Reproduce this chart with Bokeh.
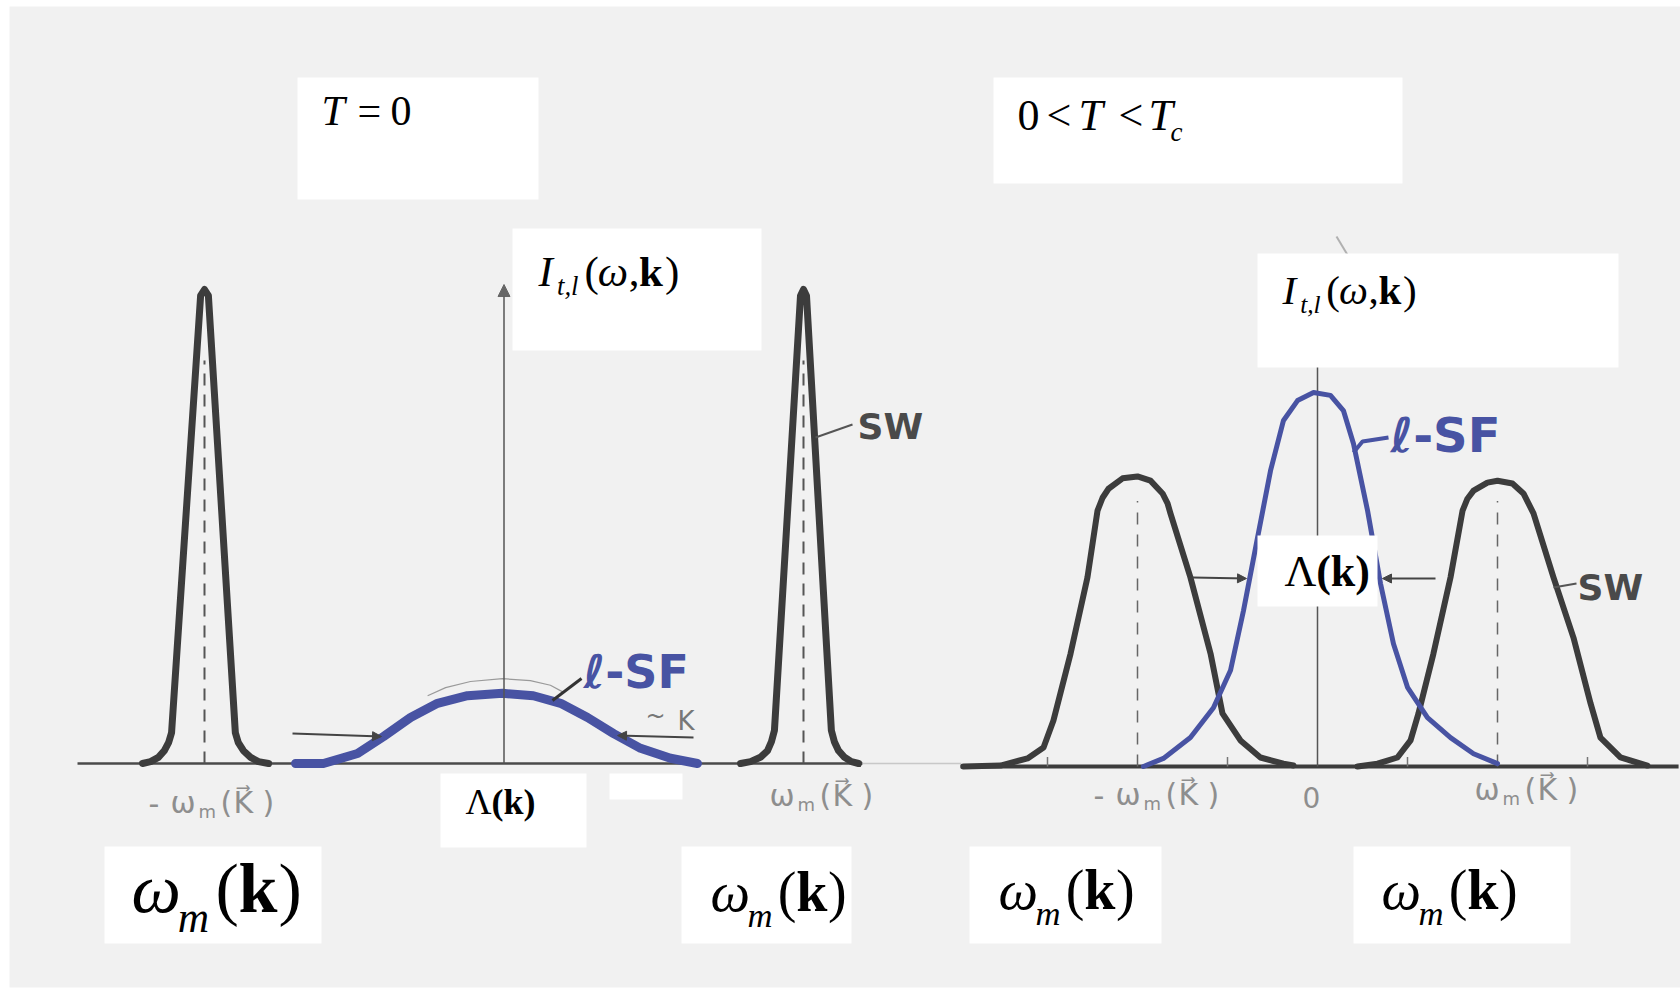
from bokeh.plotting import figure
from bokeh.models import Range1d, Arrow, NormalHead
from bokeh.core.properties import value
from bokeh.embed import file_html
from bokeh.resources import INLINE

# ---------------- data: panel T = 0 (omega in units of omega_m(k); intensity rel. to SW peak at T=0)
sw0_left_w = [-1.207, -1.180, -1.154, -1.134, -1.120, -1.110, -1.013, -1.000, -0.987,
              -0.897, -0.887, -0.870, -0.846, -0.820, -0.786]
sw0_left_I = [0.0, 0.004, 0.013, 0.027, 0.044, 0.065, 0.987, 1.0, 0.987,
              0.065, 0.044, 0.027, 0.013, 0.004, 0.0]
sw0_right_w = [0.790, 0.823, 0.856, 0.880, 0.893, 0.903, 0.990, 1.000, 1.010,
               1.093, 1.103, 1.117, 1.137, 1.160, 1.184]
sw0_right_I = [0.0, 0.004, 0.013, 0.027, 0.046, 0.070, 0.987, 1.0, 0.987,
               0.070, 0.046, 0.027, 0.013, 0.004, 0.0]
lsf0_w = [-0.696, -0.603, -0.489, -0.402, -0.312, -0.222, -0.122, -0.005, 0.098,
          0.189, 0.279, 0.366, 0.456, 0.556, 0.646]
lsf0_I = [0.0, 0.0, 0.021, 0.057, 0.097, 0.127, 0.143, 0.148, 0.143,
          0.127, 0.097, 0.063, 0.032, 0.011, 0.0]
arc0_w = [-0.255, -0.195, -0.112, -0.005, 0.088, 0.155, 0.199]
arc0_I = [0.143, 0.160, 0.173, 0.179, 0.175, 0.165, 0.150]
peaks_T0 = [-1.0, 1.0]
base_T0 = [-1.424, 1.197]
base_T0_thin = [1.197, 1.527]

# ---------------- data: panel 0 < T < Tc
swT_left_w = [-1.967, -1.761, -1.611, -1.522, -1.467, -1.372, -1.278, -1.222, -1.194, -1.161, -1.083,
              -1.000, -0.928, -0.861, -0.833, -0.817, -0.706, -0.594, -0.528, -0.428, -0.317, -0.189, -0.133]
swT_left_I = [0.0, 0.002, 0.017, 0.040, 0.097, 0.238, 0.399, 0.540, 0.567, 0.586, 0.608,
              0.612, 0.603, 0.576, 0.555, 0.534, 0.399, 0.238, 0.112, 0.055, 0.019, 0.006, 0.002]
swT_right_w = [0.222, 0.333, 0.444, 0.517, 0.561, 0.644, 0.739, 0.806, 0.833, 0.867, 0.944,
               1.000, 1.083, 1.144, 1.172, 1.200, 1.311, 1.422, 1.517, 1.572, 1.683, 1.833]
swT_right_I = [0.0, 0.006, 0.019, 0.055, 0.112, 0.238, 0.399, 0.540, 0.565, 0.582, 0.599,
               0.603, 0.597, 0.576, 0.555, 0.534, 0.399, 0.272, 0.133, 0.061, 0.019, 0.002]
lsfT_w = [-0.967, -0.856, -0.706, -0.578, -0.483, -0.411, -0.333, -0.261, -0.189, -0.111, -0.022,
          0.072, 0.144, 0.200, 0.278, 0.350, 0.422, 0.500, 0.611, 0.739, 0.867, 1.000]
lsfT_I = [0.0, 0.017, 0.061, 0.124, 0.203, 0.329, 0.483, 0.624, 0.730, 0.772, 0.789,
          0.783, 0.751, 0.681, 0.540, 0.386, 0.259, 0.167, 0.103, 0.061, 0.027, 0.006]
peaks_Tc = [-1.0, 1.0]
ticks_Tc = [-1.5, -0.5, 0.5, 1.5]
base_Tc = [-1.983, 2.006]

# ---------------- labels
title_left = ["T", "=", "0"]
title_right = ["0", "<", "T", "<", "T", "c"]
sw_label = "SW"
lsf_label = "\u2113-SF"
hand_tick = ["-", "\u03c9", "m", "(", "K\u20d7", ")"]

W, H = 1680, 989
BG = "#f1f1f1"
DARK = "#3c3c3c"
BLUE = "#4853a3"
GRAY = "#8e8e8e"

p = figure(width=W, height=H, output_backend="svg", toolbar_location=None,
           x_axis_type=None, y_axis_type=None,
           x_range=Range1d((9 - 503.5) / 299.5, (1680 - 503.5) / 299.5),
           y_range=Range1d((763 - 987) / 474, (763 - 6) / 474),
           min_border_left=9, min_border_right=0, min_border_top=6, min_border_bottom=2,
           background_fill_color=BG, border_fill_color="white", outline_line_color=None)
p.grid.visible = False
p.extra_x_ranges = {"rx": Range1d((9 - 1317) / 180, (1680 - 1317) / 180),
                    "px": Range1d(9, 1680)}
p.extra_y_ranges = {"ry": Range1d((766 - 987) / 474, (766 - 6) / 474),
                    "px": Range1d(987, 6)}
RT = dict(x_range_name="rx", y_range_name="ry")
PX = dict(x_range_name="px", y_range_name="px")

# ---------------- panel T = 0
p.line(base_T0, [0, 0], line_color="#4a4a4a", line_width=2.5)
p.line(base_T0_thin, [0, 0], line_color="#c8c8c8", line_width=1.5)
p.multi_line([[w, w] for w in peaks_T0], [[0, 0.85] for _ in peaks_T0],
             line_color="#555555", line_width=2, line_dash="12 9")
p.line(arc0_w, arc0_I, line_color="#9a9a9a", line_width=1.2)
p.add_layout(Arrow(end=NormalHead(size=12, fill_color="#666666", line_color="#666666", line_width=1),
                   x_start=0, y_start=0, x_end=0, y_end=1.0105,
                   line_color="#555555", line_width=1.5))
for ws, Is in ((sw0_left_w, sw0_left_I), (sw0_right_w, sw0_right_I)):
    p.line(ws, Is, line_color=DARK, line_width=7, line_join="round", line_cap="round")
p.line(lsf0_w, lsf0_I, line_color=BLUE, line_width=9, line_join="round", line_cap="round")

# ---------------- panel 0 < T < Tc
p.line(base_Tc, [0, 0], line_color=DARK, line_width=4, **RT)
p.multi_line([[w, w] for w in ticks_Tc], [[0, 0.02] for _ in ticks_Tc],
             line_color="#777777", line_width=1.5, **RT)
p.multi_line([[w, w] for w in peaks_Tc], [[0, 0.56] for _ in peaks_Tc],
             line_color="#666666", line_width=1.5, line_dash="12 10", **RT)
p.line([0, 0], [0, 0.9], line_color="#555555", line_width=1.5, **RT)
for ws, Is in ((swT_left_w, swT_left_I), (swT_right_w, swT_right_I)):
    p.line(ws, Is, line_color=DARK, line_width=6, line_join="round", line_cap="round", **RT)
p.line(lsfT_w, lsfT_I, line_color=BLUE, line_width=5, line_join="round", line_cap="round", **RT)

# ---------------- annotation strokes (leader lines, arrows)
p.line([815, 852], [437, 424], line_color="#555555", line_width=2, **PX)
p.line([1553, 1576], [587, 583], line_color="#555555", line_width=2, **PX)
p.line([552, 581], [700, 678], line_color="#333333", line_width=3, **PX)
p.line([1353, 1362, 1388], [452, 441, 437], line_color=BLUE, line_width=4, **PX)
p.line([1336, 1348], [236, 256], line_color="#b0b0b0", line_width=2, **PX)
for xs, ys, xe, ye in ((292, 733, 381, 736), (693, 737, 617, 735),
                       (1192, 577, 1246, 578), (1435, 578, 1382, 578)):
    p.add_layout(Arrow(end=NormalHead(size=9, fill_color="#444444", line_color="#444444", line_width=1),
                       x_start=xs, y_start=ys, x_end=xe, y_end=ye,
                       line_color="#444444", line_width=2, **PX))

# ---------------- white label boxes
boxes = [(297, 538, 77, 199), (512, 761, 228, 350), (440, 586, 773, 847), (609, 682, 773, 799),
         (104, 321, 846, 943), (681, 851, 846, 943), (993, 1402, 77, 183), (1257, 1618, 253, 367),
         (1257, 1377, 535, 606), (969, 1161, 846, 943), (1353, 1570, 846, 943)]
p.quad(left=[b[0] for b in boxes], right=[b[1] for b in boxes],
       top=[b[2] for b in boxes], bottom=[b[3] for b in boxes],
       fill_color="white", line_color=None, **PX)

BASE_SHIFT = 0.36  # rendered baseline sits this fraction of the font size below the anchor


def txt(x, y, s, size, font="Liberation Serif", style="normal", color="black"):
    p.text(x=[x], y=[y - BASE_SHIFT * size], text=[s], text_font=value(font),
           text_font_size=f"{size:.1f}px", text_font_style=style, text_color=color,
           text_align="left", text_baseline="alphabetic", **PX)


def I_label(x0, yb, s):
    txt(x0, yb, "I", s, style="italic")
    txt(x0 + 0.43 * s, yb + 0.20 * s, "t,l", 0.62 * s, style="italic")
    txt(x0 + 1.07 * s, yb, "(", s)
    txt(x0 + 1.38 * s, yb, "\u03c9", s, style="italic")
    txt(x0 + 2.10 * s, yb, ",", s)
    txt(x0 + 2.34 * s, yb, "k", s, style="bold")
    txt(x0 + 2.94 * s, yb, ")", s)


def omega_label(x0, yb, s):
    txt(x0, yb, "\u03c9", s, style="italic")
    txt(x0 + 0.66 * s, yb + 0.28 * s, "m", 0.62 * s, style="italic")
    txt(x0 + 1.20 * s, yb, "(", s)
    txt(x0 + 1.53 * s, yb, "k", s, style="bold")
    txt(x0 + 2.10 * s, yb, ")", s)


def lam_label(x0, yb, s):
    txt(x0, yb, "\u039b", s)
    txt(x0 + 0.72 * s, yb, "(k)", s, style="bold")


def hand_label(x0, yb, s, minus):
    f = "DejaVu Sans"
    parts = hand_tick if minus else hand_tick[1:]
    offs = [0.0, 0.73, 1.67, 2.40, 2.83, 3.80] if minus else [0.73, 1.67, 2.40, 2.83, 3.80]
    for part, o in zip(parts, offs):
        if part == "m":
            txt(x0 + o * s, yb + 0.15 * s, part, 0.6 * s, font=f, color=GRAY)
        else:
            txt(x0 + o * s, yb, part, s, font=f, color=GRAY)


# titles
txt(321, 126, title_left[0], 42, style="italic")
txt(357, 126, title_left[1], 42)
txt(390, 126, title_left[2], 42)
txt(1017, 131, title_right[0], 44)
txt(1046, 131, title_right[1], 44)
txt(1078, 131, title_right[2], 44, style="italic")
txt(1118, 131, title_right[3], 44)
txt(1148, 131, title_right[4], 44, style="italic")
txt(1170, 141, title_right[5], 27, style="italic")

I_label(538, 286, 43)
I_label(1282, 304, 41)
lam_label(465, 814, 36)
lam_label(1284, 587, 44)
omega_label(131, 913, 70)
omega_label(710, 912, 56)
omega_label(998, 910, 56)
omega_label(1381, 910, 56)

# handwritten tick labels
hand_label(148, 813, 30, True)
hand_label(747, 806, 30, False)
hand_label(1093, 805, 30, True)
txt(1302, 807, "0", 28, font="DejaVu Sans", color=GRAY)
hand_label(1452, 800, 30, False)
txt(645, 724, "~", 24, font="DejaVu Sans", color="#777777")
txt(677, 730, "K", 26, font="DejaVu Sans", color="#777777")

# curve labels
txt(857, 439, sw_label, 36, font="DejaVu Sans", style="bold", color="#4a4a4a")
txt(1577, 600, sw_label, 36, font="DejaVu Sans", style="bold", color="#4a4a4a")
txt(583, 688, lsf_label, 46, font="DejaVu Sans", style="bold", color=BLUE)
txt(1390, 452, lsf_label, 48, font="DejaVu Sans", style="bold", color=BLUE)

open("out.html", "w").write(file_html(p, INLINE))
